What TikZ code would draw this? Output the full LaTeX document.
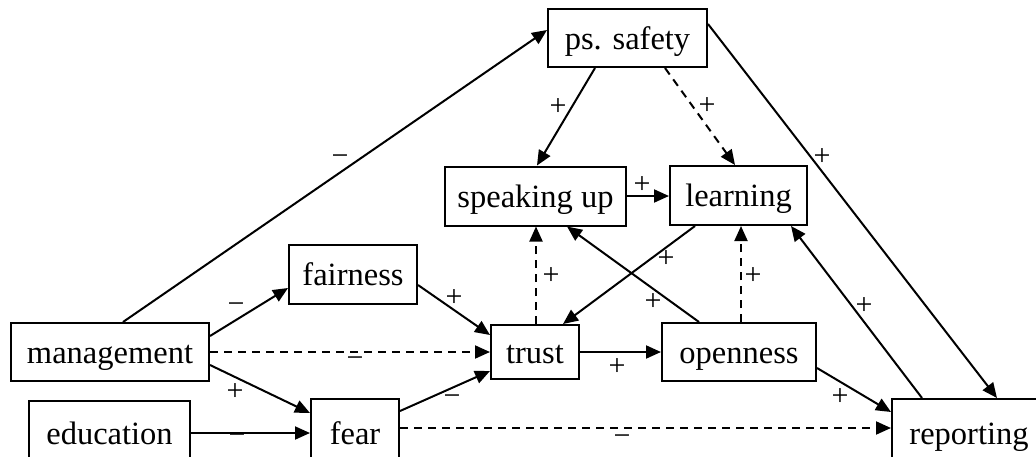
\documentclass[tikz,border=0pt]{standalone}
\usepackage{fontspec}
\setmainfont{Liberation Serif}
\usetikzlibrary{arrows.meta}
\tikzset{
  box/.style={draw, line width=2pt, inner sep=0pt, text height=29pt, text depth=7pt,
    font=\fontsize{32.5}{38}\selectfont, minimum height=58pt},
  arr/.style={line width=2pt, -{Triangle[length=15pt,width=13pt]}},
  dsh/.style={arr, dash pattern=on 8pt off 6pt},
  lab/.style={inner sep=0pt, font=\fontsize{30}{34}\selectfont},
  mlab/.style={lab, yshift=-3pt}
}
\begin{document}
\begin{tikzpicture}[x=1pt,y=-1pt]
\useasboundingbox (0,0) rectangle (1036,456);
\clip (0,0) rectangle (1036,456);
\fill[white] (0,0) rectangle (1036,456);
% nodes
\node[box, minimum width=159pt] (ps) at (627.5,38) {ps. safety};
\node[box, minimum width=181pt, minimum height=59pt] (sp) at (535.5,196) {speaking up};
\node[box, minimum width=137pt, minimum height=59pt] (le) at (738.5,195.5) {learning};
\node[box, minimum width=128pt, minimum height=59pt] (fa) at (353,274.5) {fairness};
\node[box, minimum width=198pt] (mg) at (110,352) {management};
\node[box, minimum width=88pt, minimum height=54pt] (tr) at (535,352) {trust};
\node[box, minimum width=154pt] (op) at (739,352) {openness};
\node[box, minimum width=161pt, minimum height=64pt] (ed) at (109.5,433) {education};
\node[box, minimum width=88pt, minimum height=68pt] (fe) at (355,433) {fear};
\node[box, minimum width=154pt, minimum height=68pt] (re) at (969,433) {reporting};
% connectors
\draw[arr] ([xshift=13pt]mg.north) -- ([yshift=8pt]ps.west);
\draw[arr] ([yshift=16pt]mg.east) -- ([yshift=-13.5pt]fa.west);
\draw[dsh] (mg.east) -- (tr.west);
\draw[arr] ([yshift=-13pt]mg.east) -- ([yshift=20pt]fe.west);
\draw[arr] (ed.east) -- (fe.west);
\draw[arr] ([yshift=-10.5pt]fa.east) -- ([yshift=17pt]tr.west);
\draw[arr] ([yshift=22pt]fe.east) -- ([yshift=-19pt]tr.west);
\draw[dsh] ([yshift=5pt]fe.east) -- ([yshift=5pt]re.west);
\draw[arr] (tr.east) -- (op.west);
\draw[dsh] ([xshift=1pt]tr.north) -- ([xshift=1pt]tr.north |- sp.south);
\draw[arr] ([xshift=-43.5pt]le.south) -- ([xshift=28pt]tr.north);
\draw[arr] ([xshift=-40pt]op.north) -- ([xshift=31.5pt]sp.south);
\draw[dsh] ([xshift=2pt]op.north) -- ([xshift=2pt]op.north |- le.south);
\draw[arr] ([yshift=-16pt]op.east) -- ([yshift=21pt]re.west);
\draw[arr] ([xshift=-47pt]re.north) -- ([xshift=-17pt]le.south east);
\draw[arr] ([xshift=-32.5pt]ps.south) -- ([xshift=1.5pt]sp.north);
\draw[dsh] ([xshift=37.5pt]ps.south) -- ([xshift=-3.5pt]le.north);
\draw[arr] ([yshift=-16pt]ps.north east) -- ([xshift=28pt]re.north);
\draw[arr] (sp.east) -- (sp.east -| le.west);
% labels
\node[mlab] (l1) at (340,157) {−};
\node[mlab] (l2) at (236,305) {−};
\node[mlab] (l3) at (355,359) {−};
\node[lab] (l4) at (235,392) {+};
\node[mlab] (l5) at (237,436) {−};
\node[lab] (l6) at (454,298) {+};
\node[mlab] (l7) at (452,397) {−};
\node[mlab] (l8) at (622,437) {−};
\node[lab] (l9) at (617,367) {+};
\node[lab] (l10) at (551,276) {+};
\node[lab] (l11) at (666,259) {+};
\node[lab] (l12) at (653,302) {+};
\node[lab] (l13) at (753,276) {+};
\node[lab] (l14) at (840,397) {+};
\node[lab] (l15) at (864,306) {+};
\node[lab] (l16) at (558,107) {+};
\node[lab] (l17) at (707,106) {+};
\node[lab] (l18) at (822,157) {+};
\node[lab] (l19) at (642,185) {+};
\end{tikzpicture}
\end{document}
